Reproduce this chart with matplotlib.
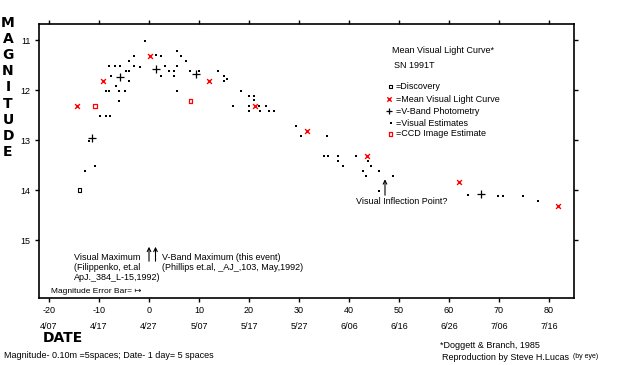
import numpy as np
import matplotlib
matplotlib.use('Agg')
import matplotlib.pyplot as plt

plt.rcParams['font.family'] = ['Liberation Sans', 'DejaVu Sans']
plt.rcParams['font.size'] = 6.5

# Discovery
disc_day = [-13.9]
disc_mag = [14.0]

# Mean visual light curve
mean_day = [-14.3, -9.2, 0.2, 12.0, 21.2, 31.5, 43.5, 62.0, 81.8]
mean_mag = [12.31, 11.81, 11.31, 11.81, 12.31, 12.81, 13.31, 13.83, 14.32]

# V-band photometry
vband_day = [-11.3, -5.9, 1.3, 9.3, 66.3]
vband_mag = [12.95, 11.73, 11.58, 11.67, 14.07]

# Visual estimates
vis_day = [-12.8, -10.8, -11.9, -9.9, -8.7, -7.8, -8.7, -8.1, -6.0, -4.9, -6.1,
           -6.7, -4.1, -7.6, -4.6, -4.1, -8.0, -6.8, -5.8, -3.1, -1.9, -4.1,
           -3.1, -0.8, 1.3, 2.4, 5.5, 6.4, 7.3, 3.2, 5.5, 4.0, 5.0, 2.4, 5.0,
           5.5, 8.1, 10.0, 13.8, 15.0, 15.5, 15.0, 18.3, 20.0, 21.0, 21.0,
           16.7, 20.0, 22.0, 23.4, 20.0, 22.2, 24.0, 24.9, 29.4, 30.3, 35.5,
           35.0, 35.8, 37.8, 37.8, 38.8, 41.3, 43.7, 44.3, 42.7, 43.3, 45.9,
           45.9, 48.8, 63.8, 69.8, 70.8, 74.8, 77.8]
vis_mag = [13.61, 13.51, 13.01, 12.52, 12.52, 12.52, 12.01, 12.01, 12.01, 12.01,
           12.21, 11.91, 11.81, 11.71, 11.61, 11.61, 11.51, 11.51, 11.51, 11.51,
           11.53, 11.41, 11.32, 11.01, 11.29, 11.32, 11.21, 11.32, 11.41, 11.51,
           11.51, 11.61, 11.61, 11.71, 11.71, 12.01, 11.61, 11.61, 11.61, 11.72,
           11.78, 11.81, 12.01, 12.11, 12.11, 12.20, 12.32, 12.32, 12.32, 12.32,
           12.41, 12.41, 12.41, 12.41, 12.71, 12.91, 12.91, 13.31, 13.31, 13.31,
           13.41, 13.51, 13.31, 13.41, 13.51, 13.61, 13.71, 13.61, 14.01, 13.71,
           14.09, 14.11, 14.11, 14.11, 14.21]

# CCD image estimates
ccd_day = [-10.8, 8.3]
ccd_mag = [12.32, 12.22]

day_ticks = [-20, -10, 0, 10, 20, 30, 40, 50, 60, 70, 80]
date_labels = ['4/07', '4/17', '4/27', '5/07', '5/17', '5/27', '6/06', '6/16',
               '6/26', '7/06', '7/16']
mag_ticks = [11, 12, 13, 14, 15]

fig = plt.figure(figsize=(6.21, 3.65), dpi=100)
ax = fig.add_axes([39/621, 1 - 298/365, 535/621, 274/365])

ax.scatter(vis_day, vis_mag, marker='s', s=2.5, color='black', linewidths=0)
ax.scatter(mean_day, mean_mag, marker='x', s=12, color='red', linewidths=1.0)
ax.scatter(vband_day, vband_mag, marker='+', s=28, color='black', linewidths=0.9)
ax.scatter(disc_day, disc_mag, marker='s', s=8, facecolors='none',
           edgecolors='black', linewidths=0.8)
ax.scatter(ccd_day, ccd_mag, marker='s', s=6, facecolors='none',
           edgecolors='red', linewidths=0.9)

ax.set_xlim(-22, 85)
ax.set_ylim(16.16, 10.68)

ax.set_xticks(day_ticks)
ax.set_xticklabels([f'{d}\n{l}' for d, l in zip(day_ticks, date_labels)],
                   linespacing=2.0)
ax.set_yticks(mag_ticks)
ax.tick_params(axis='both', direction='out', length=3, width=1, labelsize=6.5,
               top=True, right=True, pad=3)
for s in ax.spines.values():
    s.set_linewidth(1.2)

# vertical MAGNITUDE
for i, ch in enumerate('MAGNITUDE'):
    fig.text(8/621, 1 - (23 + i*16.1)/365, ch, fontsize=10, fontweight='bold',
             ha='center', va='center', family='DejaVu Sans')

fig.text(43/621, 1 - 338/365, 'DATE', fontsize=10, fontweight='bold',
         va='center', family='DejaVu Sans')
fig.text(4/621, 1 - 356/365, 'Magnitude- 0.10m =5spaces; Date- 1 day= 5 spaces',
         fontsize=6.5, va='center')
fig.text(440/621, 1 - 345/365, '*Doggett & Branch, 1985', fontsize=6.5, va='center')
fig.text(442/621, 1 - 357/365, 'Reproduction by Steve H.Lucas', fontsize=6.5,
         va='center')
fig.text(573/621, 1 - 357/365, '(by eye)', fontsize=5, va='center')

# title block and legend text
ax.text(48.6, 11.21, 'Mean Visual Light Curve*', fontsize=6.5, va='center')
ax.text(48.9, 11.52, 'SN 1991T', fontsize=6.5, va='center')
legend_y = [11.93, 12.18, 12.42, 12.66, 12.88]
legend_txt = ['=Discovery', '=Mean Visual Light Curve', '=V-Band Photometry',
              '=Visual Estimates', '=CCD Image Estimate']
for y, t in zip(legend_y, legend_txt):
    ax.text(49.4, y, t, fontsize=6.5, va='center')
ax.scatter([48.3], [legend_y[0]], marker='s', s=6, facecolors='none',
           edgecolors='black', linewidths=0.8)
ax.scatter([48.0], [legend_y[1]], marker='x', s=10, color='red', linewidths=1.0)
ax.scatter([48.0], [legend_y[2]], marker='+', s=22, color='black', linewidths=0.9)
ax.scatter([48.3], [legend_y[3]], marker='s', s=2.5, color='black', linewidths=0)
ax.scatter([48.3], [legend_y[4]], marker='s', s=5, facecolors='none',
           edgecolors='red', linewidths=0.9)

# annotations
ax.annotate('', xy=(47.2, 13.73), xytext=(47.2, 14.16),
            arrowprops=dict(arrowstyle='->', lw=0.8, color='black'))
ax.text(50.5, 14.23, 'Visual Inflection Point?', fontsize=6.5, ha='center',
        va='center')

ax.annotate('', xy=(0, 15.08), xytext=(0, 15.48),
            arrowprops=dict(arrowstyle='->', lw=0.8, color='black'))
ax.annotate('', xy=(1.3, 15.08), xytext=(1.3, 15.48),
            arrowprops=dict(arrowstyle='->', lw=0.8, color='black'))
ax.text(-15.0, 15.34, 'Visual Maximum', fontsize=6.5, va='center')
ax.text(-15.0, 15.55, '(Filippenko, et.al', fontsize=6.5, va='center')
ax.text(-15.0, 15.76, 'ApJ._384_L-15,1992)', fontsize=6.5, va='center')
ax.text(2.7, 15.34, 'V-Band Maximum (this event)', fontsize=6.5, va='center')
ax.text(2.6, 15.56, '(Phillips et.al, _AJ_,103, May,1992)', fontsize=6.5,
        va='center')
ax.text(-19.5, 16.03, 'Magnitude Error Bar= \u21a6', fontsize=6, va='center')

fig.savefig('out.png', dpi=100)
